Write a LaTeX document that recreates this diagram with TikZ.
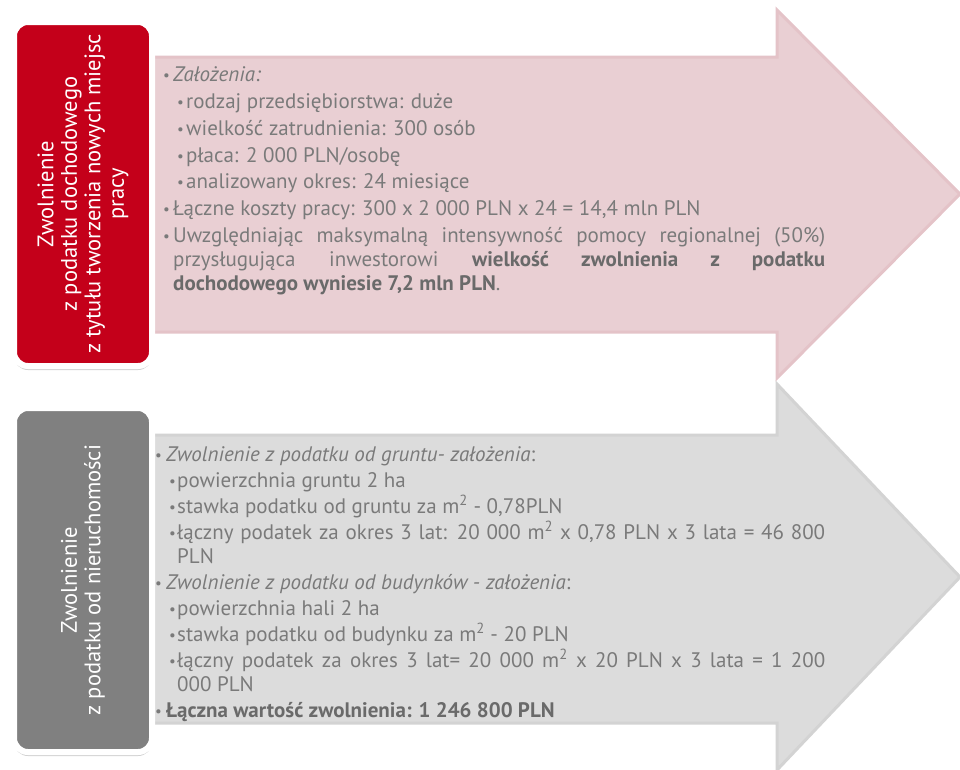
\documentclass[tikz,border=0pt]{standalone}
\usepackage{fontspec}
\setmainfont{PT Sans}
\usepackage{tikz}
\usetikzlibrary{shadows}
\definecolor{fillinc}{HTML}{C4001A}
\definecolor{fillprop}{HTML}{808080}
\definecolor{arrinc}{HTML}{E9CFD3}
\definecolor{edgeinc}{HTML}{E4C3C8}
\definecolor{arrprop}{HTML}{DCDCDC}
\definecolor{edgeprop}{HTML}{D3D3D3}
\definecolor{txtgray}{HTML}{7A7A7A}
\definecolor{txtbold}{HTML}{6A6A6A}
\newcommand\dotmark{\raisebox{1pt}{\fontsize{15}{15}\selectfont\textbullet}}
\newcommand\itemA[2][10pt]{\par\hangindent=#1\hangafter=1\noindent\makebox[#1][l]{\dotmark}#2}
\newcommand\itemB[2][23pt]{\par\hangindent=#1\hangafter=1\noindent\hspace*{14pt}\makebox[\dimexpr#1-14pt\relax][l]{\dotmark}#2}
\tikzset{
  bigarrow/.style={line width=3pt, line join=miter},
  taxbox/.style={draw=white, line width=6pt, rounded corners=14pt, rotate=90,
    minimum width=344pt, minimum height=138pt, text=white, align=center,
    font=\fontsize{22.5}{23.5}\selectfont,
    drop shadow={shadow xshift=0pt, shadow yshift=-4pt, opacity=0.18, fill=black}},
  detail/.style={anchor=north west, inner sep=0pt, text=txtgray, align=justify,
    font=\fontsize{21}{24}\selectfont},
}

\begin{document}
\begin{tikzpicture}[x=1pt, y=-1pt]
\useasboundingbox (0,0) rectangle (960,769);

% arrows
\filldraw[bigarrow, fill=arrinc, draw=edgeinc] (150,57) -- (777,57) -- (777,10) -- (960,194) -- (777,378) -- (777,332) -- (150,332) -- cycle;
\filldraw[bigarrow, fill=arrprop, draw=edgeprop] (150,435) -- (777,435) -- (777,384) -- (960,577) -- (777,770) -- (777,723) -- (150,723) -- cycle;

% side boxes
\node[taxbox, fill=fillinc] (b_inc) at (83,194) {Zwolnienie\\z podatku dochodowego\\z tytułu tworzenia nowych miejsc\\pracy};
\node[taxbox, fill=fillprop] (b_prop) at (83,580) {Zwolnienie\\z podatku od nieruchomości};

% texts
\node[detail, text width=662pt, execute at begin node={\setlength{\parskip}{2.7pt}}] (t_inc) at (163,55) {%
  \itemA{\textit{Założenia:}}
  \itemB{rodzaj przedsiębiorstwa: duże}
  \itemB{wielkość zatrudnienia: 300 osób}
  \itemB{płaca: 2~000 PLN/osobę}
  \itemB{analizowany okres: 24 miesiące}
  \itemA{Łączne koszty pracy: 300 x 2~000 PLN x 24 = 14,4 mln PLN}
  \itemA{Uwzględniając maksymalną intensywność pomocy regionalnej (50\%)\linebreak
    przysługująca inwestorowi {\color{txtbold}\bfseries wielkość zwolnienia z podatku\linebreak
    dochodowego wyniesie 7,2 mln PLN}.}\par};

\node[detail, text width=670pt, execute at begin node={\setlength{\parskip}{2pt}}] (t_prop) at (155,435) {%
  \itemA[11pt]{\textit{Zwolnienie z podatku od gruntu- założenia}:}
  \itemB[22pt]{powierzchnia gruntu 2 ha}
  \itemB[22pt]{stawka podatku od gruntu za m\textsuperscript{2} - 0,78PLN}
  \itemB[22pt]{łączny podatek za okres 3 lat: 20~000 m\textsuperscript{2} x 0,78 PLN x 3 lata = 46~800\linebreak PLN}
  \itemA[11pt]{\textit{Zwolnienie z podatku od budynków - założenia}:}
  \itemB[22pt]{powierzchnia hali 2 ha}
  \itemB[22pt]{stawka podatku od budynku za m\textsuperscript{2} - 20 PLN}
  \itemB[22pt]{łączny podatek za okres 3 lat= 20~000 m\textsuperscript{2} x 20 PLN x 3 lata = 1~200\linebreak 000 PLN}
  \itemA[11pt]{{\color{txtbold}\bfseries Łączna wartość zwolnienia: 1~246~800 PLN}}\par};

\end{tikzpicture}
\end{document}
